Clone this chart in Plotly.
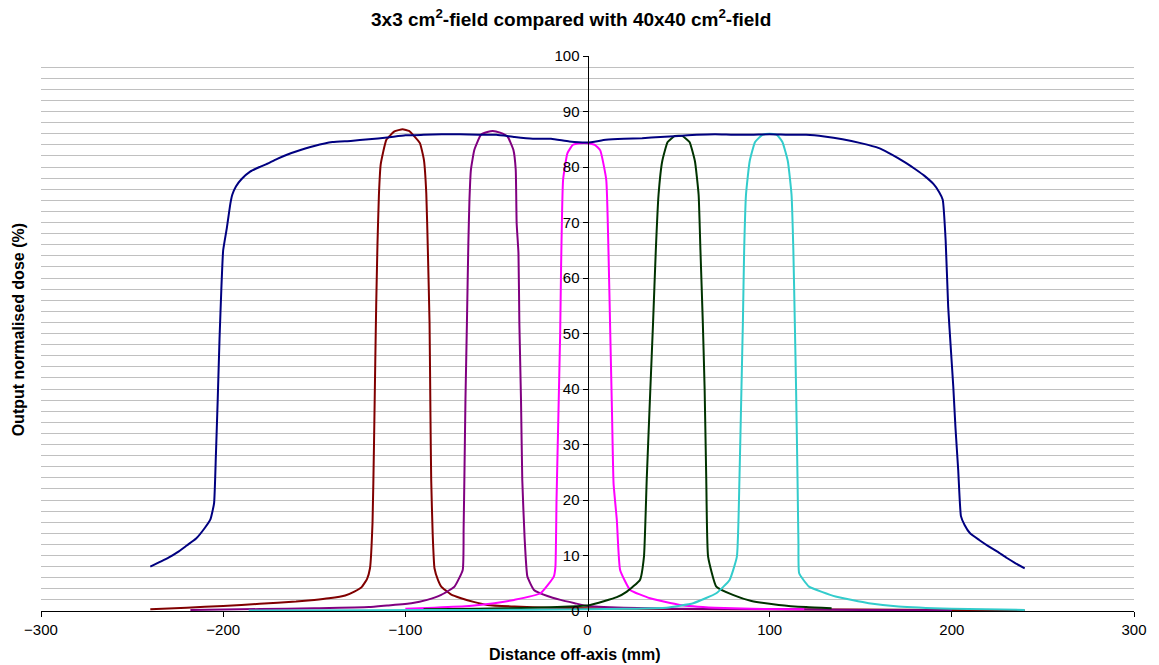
import plotly.graph_objects as go

# ---- data ----
field40_x = [-240, -235, -230, -225, -220, -215, -210, -207, -205, -204, -203, -202, -201, -200, -198, -196, -195, -193, -190, -185, -180, -175, -170, -165, -160, -150, -140, -130, -120, -110, -100, -90, -80, -70, -60, -50, -40, -30, -20, -10, 0, 10, 20, 30, 40, 50, 60, 70, 80, 90, 100, 110, 120, 130, 140, 150, 160, 165, 170, 175, 180, 185, 190, 193, 195, 196.6, 198, 199.5, 200.8, 202, 203.5, 205, 207, 210, 215, 220, 225, 230, 235, 240]
field40_y = [8.0, 8.8, 9.6, 10.6, 11.8, 13.0, 15.0, 16.5, 19.4, 28, 38, 49, 58, 65, 69, 73.5, 75, 76.5, 77.8, 79.2, 80.0, 80.7, 81.5, 82.2, 82.8, 83.8, 84.5, 84.7, 85.0, 85.3, 85.7, 85.8, 85.9, 85.9, 85.8, 85.8, 85.4, 85.1, 85.1, 84.6, 84.4, 84.9, 85.1, 85.2, 85.4, 85.6, 85.8, 85.9, 85.8, 85.8, 85.9, 85.8, 85.8, 85.5, 85.0, 84.3, 83.4, 82.6, 81.7, 80.7, 79.6, 78.4, 76.9, 75.5, 74.1, 66.8, 54.8, 47, 40.4, 33, 25.4, 17.1, 15.5, 14.0, 12.8, 11.7, 10.7, 9.6, 8.6, 7.7]

f_m100_x = [-240, -220, -200, -180, -160, -150, -142, -133, -128, -124, -121, -119.4, -118, -117.2, -116.5, -116, -115.3, -114.5, -113.5, -110.4, -106, -101.5, -98, -95.8, -92, -89.8, -88.5, -87.6, -86.7, -86.2, -85.8, -85, -84, -82, -80.3, -75, -69.4, -62, -55, -40, -20, 0, 50, 100, 150, 200, 240]
f_m100_y = [0.3, 0.6, 0.9, 1.3, 1.7, 2.0, 2.3, 2.8, 3.5, 4.3, 5.8, 7.7, 16, 30, 45, 55, 66, 75, 80.5, 84.9, 86.4, 86.8, 86.5, 85.8, 84.3, 81.3, 75.3, 64.5, 51.8, 35, 23.6, 14, 7.7, 5.5, 4.4, 3.0, 2.3, 1.6, 1.1, 0.8, 0.6, 0.5, 0.35, 0.3, 0.25, 0.2, 0.1]

f_m50_x = [-218, -180, -150, -120, -110, -96.7, -88, -80.3, -73, -68.5, -68, -67.6, -67, -66.2, -65.4, -64.8, -64, -62.1, -58.5, -55, -52, -48, -43.9, -40.7, -39.4, -38.9, -37.9, -37.4, -36.5, -35.8, -34.5, -33, -29.4, -22, -14.8, -7, 0, 20, 50, 100, 150, 200]
f_m50_y = [0.2, 0.35, 0.5, 0.7, 1.0, 1.4, 2.0, 2.9, 4.4, 7.4, 15, 23.6, 38, 51.8, 66.3, 74.1, 79.5, 83.1, 85.8, 86.3, 86.5, 86.2, 85.5, 83.1, 79.5, 69.9, 64.5, 51.8, 38, 23.6, 13, 6.2, 3.8, 2.7, 2.0, 1.4, 0.9, 0.6, 0.4, 0.3, 0.2, 0.15]

f_0_x = [-100, -84, -65, -51.2, -40.3, -25.8, -18.5, -17.6, -17, -16, -15, -14.5, -13.4, -11, -8, -4, 0, 4, 7, 10.3, 11.5, 12.5, 13.5, 14.3, 16.1, 17.9, 23.4, 34.3, 50.7, 70, 90, 119]
f_0_y = [0.4, 0.6, 0.9, 1.4, 2.0, 3.2, 6.2, 8, 20, 35, 50, 62, 77.7, 82.5, 84.0, 84.3, 84.3, 84.0, 83.0, 77.7, 65, 50, 35, 23, 16.4, 7.4, 3.8, 2.3, 1.1, 0.6, 0.4, 0.3]

f_50_x = [-90, -60, -30, -10, 1.5, 16.1, 21.6, 28.8, 31, 32.5, 34.5, 36, 37.5, 39, 41, 44, 48, 52, 56, 59, 61, 62, 63.3, 64.3, 65.2, 66.2, 70.7, 79.8, 90, 105, 120, 134]
f_50_y = [0.3, 0.4, 0.6, 0.8, 1.1, 2.5, 3.5, 5.6, 9.8, 23.6, 40, 52, 65, 75, 81, 84.5, 85.6, 85.6, 84.5, 81, 75, 65, 52, 40, 23.6, 9.8, 4.4, 2.9, 1.8, 1.1, 0.7, 0.5]

f_100_x = [-186, -120, -60, 0, 20, 43.4, 58, 70.7, 78, 82, 83.4, 84.5, 85.3, 86, 87, 89, 92, 96, 100, 104, 107, 110, 112, 113, 113.8, 114.5, 115.3, 115.8, 116.2, 121.6, 136.2, 154.4, 170.7, 200, 240]
f_100_y = [0.1, 0.15, 0.2, 0.3, 0.4, 0.6, 1.4, 3.2, 5.6, 9.8, 23.6, 40, 52, 65, 75, 81, 84.5, 85.8, 86.0, 85.8, 84.5, 81, 75, 65, 52, 40, 23.6, 12, 6.8, 4.4, 2.6, 1.4, 0.8, 0.4, 0.2]

x_ticks = [-300, -200, -100, 0, 100, 200, 300]
y_ticks = [0, 10, 20, 30, 40, 50, 60, 70, 80, 90, 100]

series = [
    (f_m100_x, f_m100_y, "#800000"),
    (f_m50_x, f_m50_y, "#800080"),
    (f_0_x, f_0_y, "#FF00FF"),
    (f_50_x, f_50_y, "#003300"),
    (f_100_x, f_100_y, "#33CCCC"),
    (field40_x, field40_y, "#000080"),
]

fig = go.Figure()
for xs, ys, col in series:
    fig.add_trace(go.Scatter(x=xs, y=ys, mode="lines", line=dict(color=col, width=2, shape="spline", smoothing=0.4),
                             showlegend=False, hoverinfo="skip"))

FONT = "Liberation Sans, Arial, sans-serif"
fig.update_layout(
    width=1159, height=665,
    margin=dict(l=41, r=19, t=56, b=54),
    paper_bgcolor="white", plot_bgcolor="white",
    font=dict(family=FONT, size=15, color="black"),
    showlegend=False,
    xaxis=dict(range=[-300, 300], tickvals=x_ticks, ticks="outside", ticklen=5, tickcolor="black",
               showline=True, linecolor="black", linewidth=1, showgrid=False, zeroline=False,
               tickfont=dict(family=FONT, size=15, color="black")),
    yaxis=dict(range=[0, 100], tickvals=y_ticks, ticks="outside", ticklen=5, tickcolor="black",
               showline=True, linecolor="black", linewidth=1, anchor="free", position=0.5,
               showgrid=True, gridcolor="#C0C0C0", gridwidth=1, zeroline=False,
               minor=dict(dtick=2, showgrid=True, gridcolor="#C0C0C0", gridwidth=1, ticks=""),
               tickfont=dict(family=FONT, size=15, color="black")),
    annotations=[
        dict(text="<b>3x3 cm<sup>2</sup>-field compared with 40x40 cm<sup>2</sup>-field</b>", xref="paper", yref="paper",
             x=0.4846, y=1.0685, xanchor="center", yanchor="middle", showarrow=False,
             font=dict(family=FONT, size=19, color="black")),
        dict(text="<b>Distance off-axis (mm)</b>", xref="paper", yref="paper",
             x=0.4886, y=-0.079, xanchor="center", yanchor="middle", showarrow=False,
             font=dict(family=FONT, size=16, color="black")),
        dict(text="<b>Output normalised dose (%)</b>", xref="paper", yref="paper",
             x=-0.0209, y=0.506, xanchor="center", yanchor="middle", showarrow=False, textangle=-90,
             font=dict(family=FONT, size=16, color="black")),
    ],
)

fig.write_html("out.html")
